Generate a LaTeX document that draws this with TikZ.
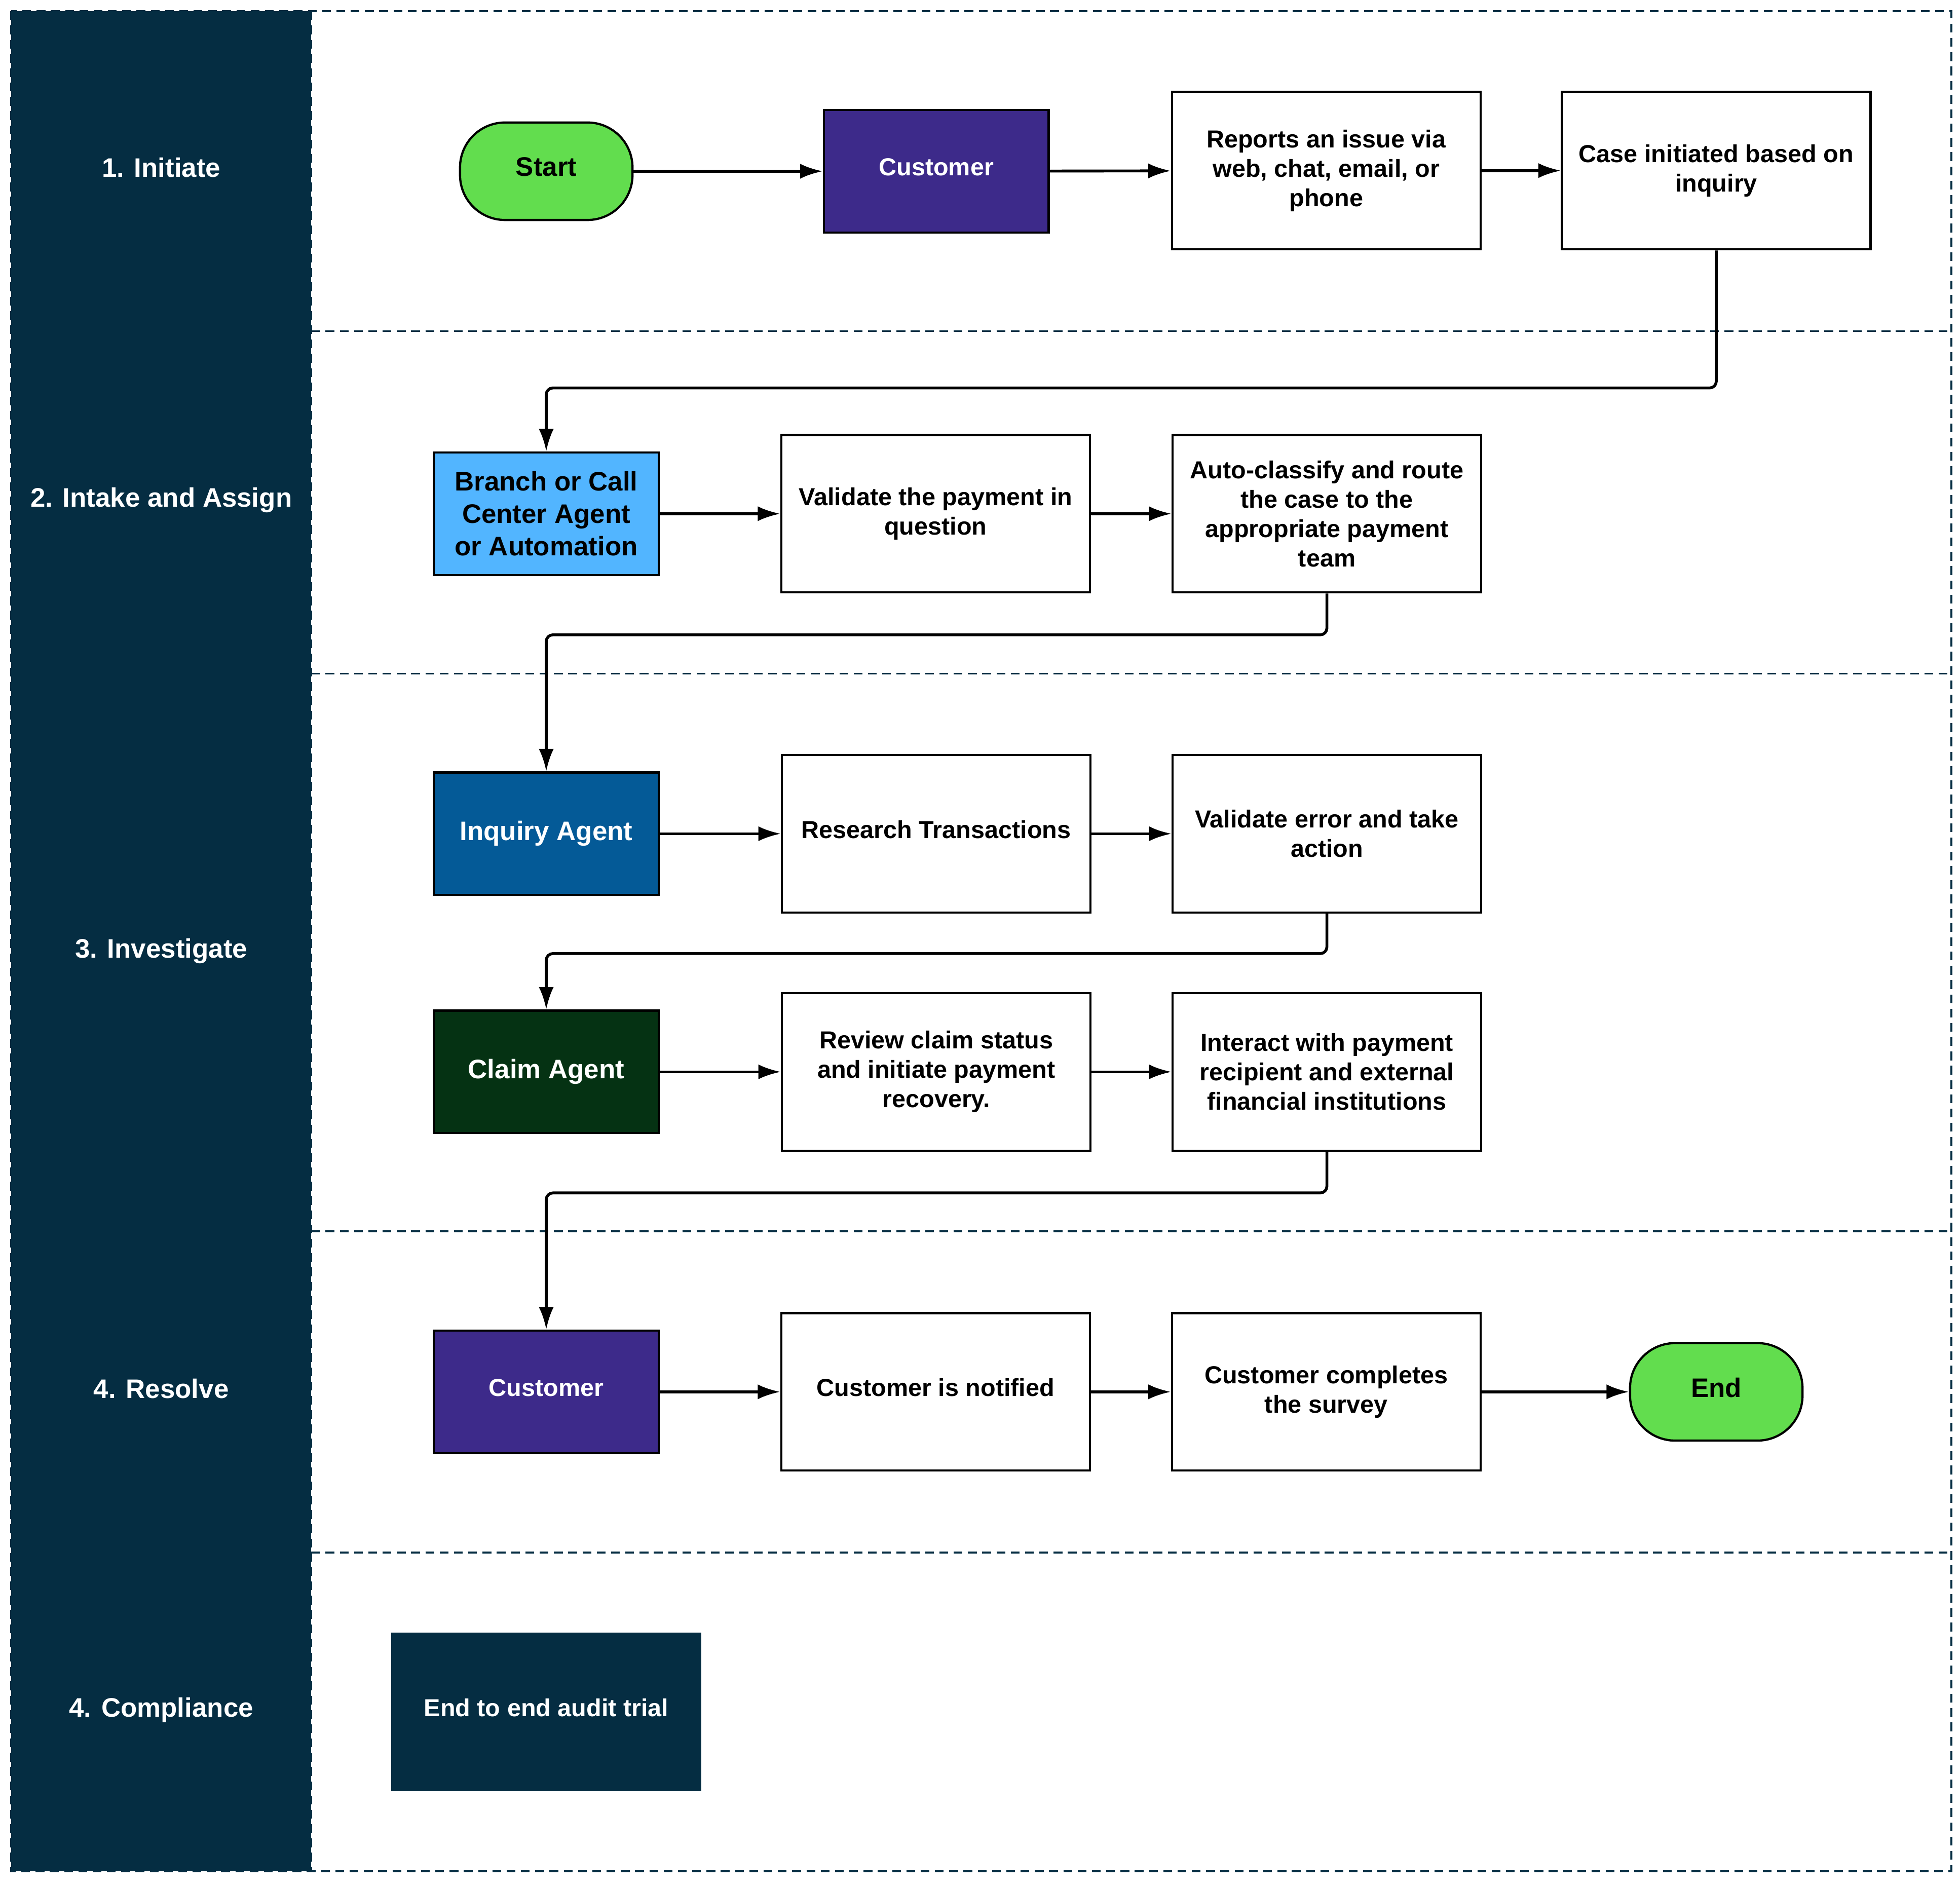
\documentclass[tikz,border=0pt]{standalone}
\usepackage{fontspec}
\setmainfont{Liberation Sans}
\usetikzlibrary{arrows.meta,positioning}
\definecolor{lane}{HTML}{052D42}
\definecolor{termgreen}{HTML}{62DD4E}
\definecolor{custpurple}{HTML}{3D2A8A}
\definecolor{branchblue}{HTML}{52B5FF}
\definecolor{inqblue}{HTML}{045A97}
\definecolor{claimgreen}{HTML}{053213}
\newcommand{\stepfont}{\fontsize{11.2}{13.4}\selectfont\bfseries}
\newcommand{\rolefont}{\fontsize{12.2}{14.8}\selectfont\bfseries}
\tikzset{
  >={Latex[length=3.6mm,width=2.4mm]},
  every node/.style={align=center,inner sep=2pt},
  lanelabel/.style={text=white,font=\rolefont},
  stepbox/.style={draw=black,line width=1pt,fill=white,minimum width=4.94cm,minimum height=2.52cm,font=\stepfont},
  rolebox/.style={draw=black,line width=1pt,minimum width=3.6cm,minimum height=1.96cm,font=\rolefont},
  custbox/.style={rolebox,fill=custpurple,text=white,font=\stepfont,lift},
  terminal/.style={draw=black,line width=1pt,fill=termgreen,rounded corners=0.72cm,minimum width=2.76cm,minimum height=1.56cm,font=\rolefont,lift},
  auditbox/.style={fill=lane,text=white,minimum width=4.96cm,minimum height=2.54cm,font=\stepfont,lift},
  lift/.style={text depth=4pt},
  flow/.style={->,line width=1.3pt,draw=black},
  elbow/.style={flow,rounded corners=3pt},
  lanesep/.style={draw=lane,line width=0.8pt,dash pattern=on 4pt off 2.5pt},
}

\begin{document}
\begin{tikzpicture}[x=0.02cm,y=-0.02cm]
\useasboundingbox (0,0) rectangle (1568,1511);

% ---------- lanes ----------
\fill[lane] (9,9) rectangle (249,1497);
\draw[lanesep] (9,9) rectangle (1561,1497);
\draw[lanesep] (249,9) -- (249,1497);
\foreach \y in {265,539,985,1242} {\draw[lanesep] (249,\y) -- (1561,\y);}

\node[lanelabel] (lab1) at (129,134) {1. Initiate};
\node[lanelabel] (lab2) at (129,400) {2. Intake and Assign};
\node[lanelabel] (lab3) at (129,761) {3. Investigate};
\node[lanelabel] (lab4) at (129,1111) {4. Resolve};
\node[lanelabel] (lab5) at (129,1368) {4. Compliance};

% ---------- 1. initiate ----------
\node[terminal] (start) at (437,137) {Start};
\node[custbox] (cust1) at (749,137) {Customer};
\node[stepbox] (report) at (1061,136.5) {Reports an issue via\\web, chat, email, or\\phone};
\node[stepbox] (case) at (1373,136.5) {Case initiated based on\\inquiry};

\draw[flow] (start) -- (cust1);
\draw[flow] (cust1) -- (report);
\draw[flow] (report) -- (case);

% ---------- 2. intake and assign ----------
\node[rolebox,fill=branchblue] (branch) at (437,411) {Branch or Call\\Center Agent\\or Automation};
\node[stepbox] (valpay) at (748.5,411) {Validate the payment in\\question};
\node[stepbox] (route) at (1061.5,411) {Auto-classify and route\\the case to the\\appropriate payment\\team};

\draw[elbow] (case.south) -- ++(0,110) -| (branch.north);
\draw[flow] (branch) -- (valpay);
\draw[flow] (valpay) -- (route);

% ---------- 3. investigate ----------
\node[rolebox,fill=inqblue,text=white] (inquiry) at (437,667) {Inquiry Agent};
\node[stepbox,lift] (research) at (749,667) {Research Transactions};
\node[stepbox] (valerr) at (1061.5,667) {Validate error and take\\action};

\draw[elbow] (route.south) -- ++(0,33) -| (inquiry.north);
\draw[flow] (inquiry) -- (research);
\draw[flow] (research) -- (valerr);

\node[rolebox,fill=claimgreen,text=white] (claim) at (437,857.5) {Claim Agent};
\node[stepbox] (review) at (749,857.5) {Review claim status\\and initiate payment\\recovery.};
\node[stepbox] (interact) at (1061.5,857.5) {Interact with payment\\recipient and external\\financial institutions};

\draw[elbow] (valerr.south) -- ++(0,32) -| (claim.north);
\draw[flow] (claim) -- (review);
\draw[flow] (review) -- (interact);

% ---------- 4. resolve ----------
\node[custbox] (cust2) at (437,1113.5) {Customer};
\node[stepbox,lift] (notified) at (748.5,1113.5) {Customer is notified};
\node[stepbox] (survey) at (1061,1113.5) {Customer completes\\the survey};
\node[terminal] (end) at (1373,1113.5) {End};

\draw[elbow] (interact.south) -- ++(0,33) -| (cust2.north);
\draw[flow] (cust2) -- (notified);
\draw[flow] (notified) -- (survey);
\draw[flow] (survey) -- (end);

% ---------- compliance ----------
\node[auditbox] (audit) at (437,1369.5) {End to end audit trial};

\end{tikzpicture}
\end{document}
